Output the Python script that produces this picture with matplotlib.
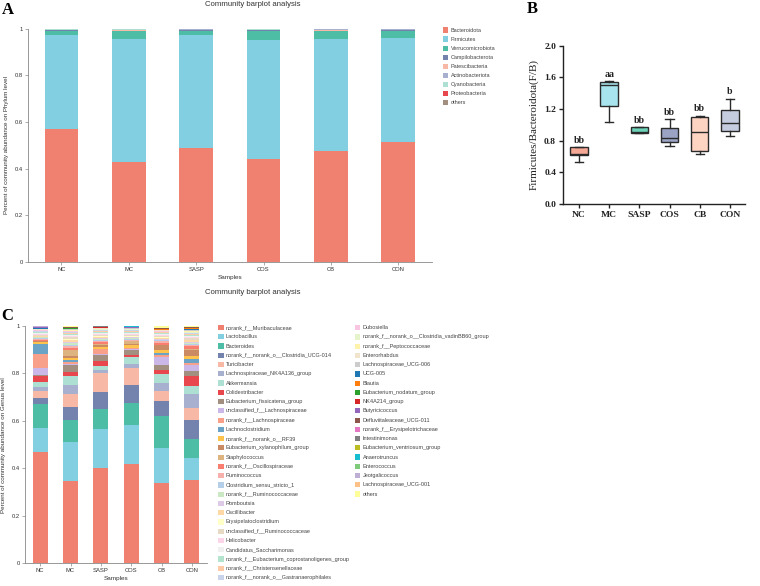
import numpy as np
import matplotlib
matplotlib.use("Agg")
import matplotlib.pyplot as plt
from matplotlib.patches import Rectangle

plt.rcParams['font.family'] = ['Liberation Sans', 'DejaVu Sans']

samples = ["NC", "MC", "SASP", "COS", "CB", "CON"]

# ---- panel A : phylum level
phyla = ["Bacteroidota", "Firmicutes", "Verrucomicrobiota", "Campilobacterota",
         "Patescibacteria", "Actinobacteriota", "Cyanobacteria", "Proteobacteria", "others"]
phylum_colors = ["#F08070", "#82CFE2", "#4DBDA5", "#7483AD", "#F7B9A5",
                 "#A8B0CF", "#ADE0D3", "#E8484D", "#A38F80"]
phy_nc = [0.571, 0.401, 0.018, 0.003, 0.001, 0.002, 0.001, 0.001, 0.002]
phy_mc = [0.430, 0.525, 0.033, 0.003, 0.002, 0.003, 0.001, 0.001, 0.002]
phy_sasp = [0.487, 0.488, 0.017, 0.002, 0.002, 0.001, 0.001, 0.001, 0.001]
phy_cos = [0.441, 0.511, 0.037, 0.004, 0.001, 0.002, 0.001, 0.001, 0.002]
phy_cb = [0.474, 0.481, 0.035, 0.002, 0.002, 0.003, 0.001, 0.001, 0.001]
phy_con = [0.514, 0.446, 0.031, 0.003, 0.001, 0.002, 0.001, 0.001, 0.001]

# ---- panel B : F/B ratio box stats (min, q1, median, q3, max)
fb_whislo = [0.527, 1.032, 0.897, 0.737, 0.636, 0.855]
fb_q1 = [0.619, 1.242, 0.897, 0.783, 0.670, 0.922]
fb_med = [0.630, 1.503, 0.905, 0.838, 0.906, 1.027]
fb_q3 = [0.716, 1.537, 0.969, 0.960, 1.095, 1.192]
fb_whishi = [0.716, 1.554, 0.969, 1.074, 1.116, 1.330]
fb_letters = ["bb", "aa", "bb", "bb", "bb", "b"]
fb_colors = ["#F5A896", "#A8E4EE", "#6CD2B8", "#9AA3C4", "#FDD3C2", "#C6CCE0"]

# ---- panel C : genus level
genera = [
    "norank_f__Muribaculaceae", "Lactobacillus", "Bacteroides",
    "norank_f__norank_o__Clostridia_UCG-014", "Turicibacter",
    "Lachnospiraceae_NK4A136_group", "Akkermansia", "Colidextribacter",
    "Eubacterium_fissicatena_group", "unclassified_f__Lachnospiraceae",
    "norank_f__Lachnospiraceae", "Lachnoclostridium", "norank_f__norank_o__RF39",
    "Eubacterium_xylanophilum_group", "Staphylococcus", "norank_f__Oscillospiraceae",
    "Ruminococcus", "Clostridium_sensu_stricto_1", "norank_f__Ruminococcaceae",
    "Romboutsia", "Oscillibacter", "Erysipelatoclostridium",
    "unclassified_f__Ruminococcaceae", "Helicobacter", "Candidatus_Saccharimonas",
    "norank_f__Eubacterium_coprostanoligenes_group", "norank_f__Christensenellaceae",
    "norank_f__norank_o__Gastranaerophilales",
    "Dubosiella", "norank_f__norank_o__Clostridia_vadinBB60_group",
    "norank_f__Peptococcaceae", "Enterorhabdus", "Lachnospiraceae_UCG-006",
    "UCG-005", "Blautia", "Eubacterium_nodatum_group", "NK4A214_group",
    "Butyricicoccus", "Defluviitaleaceae_UCG-011", "norank_f__Erysipelotrichaceae",
    "Intestinimonas", "Eubacterium_ventriosum_group", "Anaerotruncus",
    "Enterococcus", "Jeotgalicoccus", "Lachnospiraceae_UCG-001", "others"]
genus_colors = [
    "#F08070", "#82CFE2", "#4DBDA5", "#7483AD", "#F7B9A5", "#A8B0CF", "#ADE0D3",
    "#E8484D", "#A38F80", "#CCB8E8", "#F9A08A", "#6AA3C6", "#FDC34D", "#C98A64",
    "#DDB47F", "#F97E70", "#F7B0AB", "#B6CFE8", "#CBE8C4", "#DCCAE6", "#FFD8A6",
    "#FFFFC6", "#E6DAC4", "#FCD6E8", "#F0F0F0", "#B5E4CE", "#FFCAA6", "#C9D3EA",
    "#F8C6E0", "#E6F4CC", "#FFF2AA", "#F2E3CD", "#CCCCCC", "#1F77B4", "#FF7F0E",
    "#2CA02C", "#D62728", "#9467BD", "#8C564B", "#E377C2", "#7F7F7F", "#BCBD22",
    "#17BECF", "#7FCB7C", "#BEAED4", "#FDC086", "#FFFF99"]

gen_nc = [0.471, 0.101, 0.099, 0.027, 0.030, 0.017, 0.021, 0.022, 0.005, 0.032,
          0.059, 0.042, 0.006, 0.003, 0.002, 0.004, 0.004, 0.003, 0.004, 0.002,
          0.003, 0.002, 0.004, 0.003, 0.003, 0.004, 0.003, 0.003,
          0.003, 0.002, 0.001, 0.002, 0.002, 0.001, 0.0005, 0.0005, 0.001, 0.003,
          0.0005, 0.0005, 0.0005, 0.0005, 0.0005, 0.0003, 0.0002, 0.0005, 0.0015]
gen_mc = [0.347, 0.166, 0.090, 0.056, 0.056, 0.038, 0.036, 0.017, 0.028, 0.006,
          0.007, 0.008, 0.012, 0.005, 0.025, 0.012, 0.008, 0.004, 0.006, 0.006,
          0.007, 0.006, 0.006, 0.005, 0.004, 0.006, 0.005, 0.004,
          0.003, 0.002, 0.002, 0.002, 0.002, 0.001, 0.001, 0.001, 0.001, 0.001,
          0.002, 0.0005, 0.0005, 0.0005, 0.0005, 0.0003, 0.0002, 0.0005, 0.003]
gen_sasp = [0.400, 0.168, 0.084, 0.070, 0.080, 0.014, 0.017, 0.019, 0.024, 0.007,
            0.018, 0.003, 0.008, 0.008, 0.006, 0.005, 0.006, 0.003, 0.005, 0.003,
            0.006, 0.004, 0.005, 0.004, 0.005, 0.004, 0.004, 0.003,
            0.002, 0.002, 0.001, 0.002, 0.001, 0.001, 0.0005, 0.0005, 0.001, 0.001,
            0.002, 0.0005, 0.0005, 0.0005, 0.0005, 0.0003, 0.0002, 0.0005, 0.001]
gen_cos = [0.419, 0.165, 0.093, 0.076, 0.071, 0.015, 0.032, 0.005, 0.022, 0.004,
           0.004, 0.003, 0.012, 0.003, 0.011, 0.003, 0.003, 0.003, 0.004, 0.004,
           0.003, 0.003, 0.004, 0.006, 0.004, 0.004, 0.003, 0.003,
           0.002, 0.002, 0.001, 0.002, 0.001, 0.001, 0.0005, 0.0005, 0.001, 0.001,
           0.002, 0.0005, 0.0005, 0.0005, 0.0005, 0.0003, 0.0002, 0.0005, 0.001]
gen_cb = [0.337, 0.149, 0.135, 0.063, 0.042, 0.034, 0.036, 0.020, 0.021, 0.032,
          0.010, 0.008, 0.010, 0.021, 0.004, 0.006, 0.008, 0.003, 0.004, 0.004,
          0.004, 0.003, 0.004, 0.004, 0.004, 0.004, 0.003, 0.003,
          0.002, 0.002, 0.001, 0.002, 0.001, 0.001, 0.0005, 0.0005, 0.001, 0.001,
          0.002, 0.0005, 0.001, 0.0005, 0.0005, 0.0003, 0.0002, 0.0005, 0.006]
gen_con = [0.351, 0.091, 0.082, 0.081, 0.049, 0.061, 0.031, 0.042, 0.021, 0.025,
           0.011, 0.017, 0.011, 0.025, 0.006, 0.012, 0.005, 0.004, 0.005, 0.004,
           0.005, 0.004, 0.005, 0.004, 0.005, 0.005, 0.004, 0.003,
           0.003, 0.003, 0.002, 0.003, 0.003, 0.006, 0.001, 0.001, 0.001, 0.001,
           0.001, 0.0005, 0.001, 0.0005, 0.0005, 0.0003, 0.0002, 0.0005, 0.003]

W, H = 760, 586
fig = plt.figure(figsize=(W / 100, H / 100), dpi=100)


def fx(px):
    return px / W


def fy(py):
    return 1 - py / H


def stacked(ax, table, colors):
    table = np.array(table)
    x = np.arange(len(samples))
    bottom = np.zeros(len(samples))
    for j in range(table.shape[1]):
        ax.bar(x, table[:, j], 0.5, bottom=bottom, color=colors[j], linewidth=0)
        bottom += table[:, j]
    ax.set_xlim(-0.5, 5.5)
    ax.set_ylim(0, 1)
    ax.set_xticks(x)
    ax.set_xticklabels(samples, fontsize=4.2, color="#333333")
    ax.set_yticks([0, 0.2, 0.4, 0.6, 0.8, 1])
    ax.set_yticklabels(["0", "0.2", "0.4", "0.6", "0.8", "1"], fontsize=4.2, color="#333333")
    for s in ["top", "right"]:
        ax.spines[s].set_visible(False)
    for s in ["left", "bottom"]:
        ax.spines[s].set_color("#888888")
        ax.spines[s].set_linewidth(0.6)
    ax.tick_params(length=2, width=0.5, color="#888888", pad=1.5)
    ax.set_xlabel("Samples", fontsize=4.6, color="#333333", labelpad=2)


def legend_column(names, colors, x_patch, y_first, dy):
    for i, (name, c) in enumerate(zip(names, colors)):
        yc = y_first + i * dy
        fig.patches.append(Rectangle((fx(x_patch), fy(yc + 2.6)), fx(5.5), 5.2 / H,
                                     transform=fig.transFigure, color=c, linewidth=0))
        fig.text(fx(x_patch + 8), fy(yc), name, fontsize=4.0, va="center", ha="left",
                 color="#444444")


# panel A
axA = fig.add_axes([fx(27.7), fy(262), fx(432 - 27.7), (262 - 28.7) / H])
stacked(axA, [phy_nc, phy_mc, phy_sasp, phy_cos, phy_cb, phy_con], phylum_colors)
axA.set_ylabel("Percent of community abundance on Phylum level", fontsize=4.5,
               color="#333333", labelpad=4)
fig.text(fx(253), fy(5), "Community barplot analysis", fontsize=5.6, ha="center",
         va="center", color="#333333")
legend_column(phyla, phylum_colors, 442.7, 30, 9.09)

# panel C
axC = fig.add_axes([fx(25), fy(563.3), fx(207 - 25), (563.3 - 326) / H])
stacked(axC, [gen_nc, gen_mc, gen_sasp, gen_cos, gen_cb, gen_con], genus_colors)
axC.set_ylabel("Percent of community abundance on Genus level", fontsize=4.5,
               color="#333333", labelpad=4)
fig.text(fx(253), fy(292), "Community barplot analysis", fontsize=5.6, ha="center",
         va="center", color="#333333")
legend_column(genera[:28], genus_colors[:28], 218, 327.5, 9.26)
legend_column(genera[28:], genus_colors[28:], 354.5, 327.7, 9.24)

# panel B
serif = ["Liberation Serif", "DejaVu Serif"]
axB = fig.add_axes([fx(563), fy(204), fx(745 - 563), (204 - 45.7) / H])
stats = []
for i in range(len(samples)):
    stats.append(dict(whislo=fb_whislo[i], q1=fb_q1[i], med=fb_med[i],
                      q3=fb_q3[i], whishi=fb_whishi[i], fliers=[]))
bp = axB.bxp(stats, positions=np.arange(len(samples)), widths=0.58, patch_artist=True,
             showfliers=False, capwidths=0.27,
             boxprops=dict(linewidth=1.0, edgecolor="#2a2a2a"),
             whiskerprops=dict(linewidth=1.0, color="#2a2a2a"),
             capprops=dict(linewidth=1.0, color="#2a2a2a"),
             medianprops=dict(linewidth=1.0, color="#2a2a2a"))
for patch, c in zip(bp["boxes"], fb_colors):
    patch.set_facecolor(c)
for i, lab in enumerate(fb_letters):
    axB.text(i, fb_whishi[i] + 0.03, lab, ha="center", va="bottom", fontsize=7,
             fontweight="bold", family=serif, color="#222222")
axB.set_xlim(-0.53, 5.5)
axB.set_ylim(0, 2.0)
axB.set_yticks([0.0, 0.4, 0.8, 1.2, 1.6, 2.0])
axB.set_yticklabels(["0.0", "0.4", "0.8", "1.2", "1.6", "2.0"])
axB.set_xticks(np.arange(len(samples)))
axB.set_xticklabels(samples)
for lab in axB.get_xticklabels() + axB.get_yticklabels():
    lab.set_family(serif)
    lab.set_fontweight("bold")
    lab.set_fontsize(6.8)
    lab.set_color("#222222")
for s in ["top", "right"]:
    axB.spines[s].set_visible(False)
for s in ["left", "bottom"]:
    axB.spines[s].set_linewidth(1.0)
    axB.spines[s].set_color("#222222")
axB.tick_params(length=3, width=1.0, color="#222222", pad=2)
axB.set_ylabel("Firmicutes/Bacteroidota(F/B)", family=serif, fontsize=8,
               color="#222222", labelpad=4)

# panel letters
fig.text(fx(7.5), fy(10), "A", family=serif, fontweight="bold", fontsize=12,
         ha="center", va="center")
fig.text(fx(532.5), fy(9), "B", family=serif, fontweight="bold", fontsize=12,
         ha="center", va="center")
fig.text(fx(7), fy(315.5), "C", family=serif, fontweight="bold", fontsize=12,
         ha="center", va="center")

fig.savefig("out.png", dpi=100)
